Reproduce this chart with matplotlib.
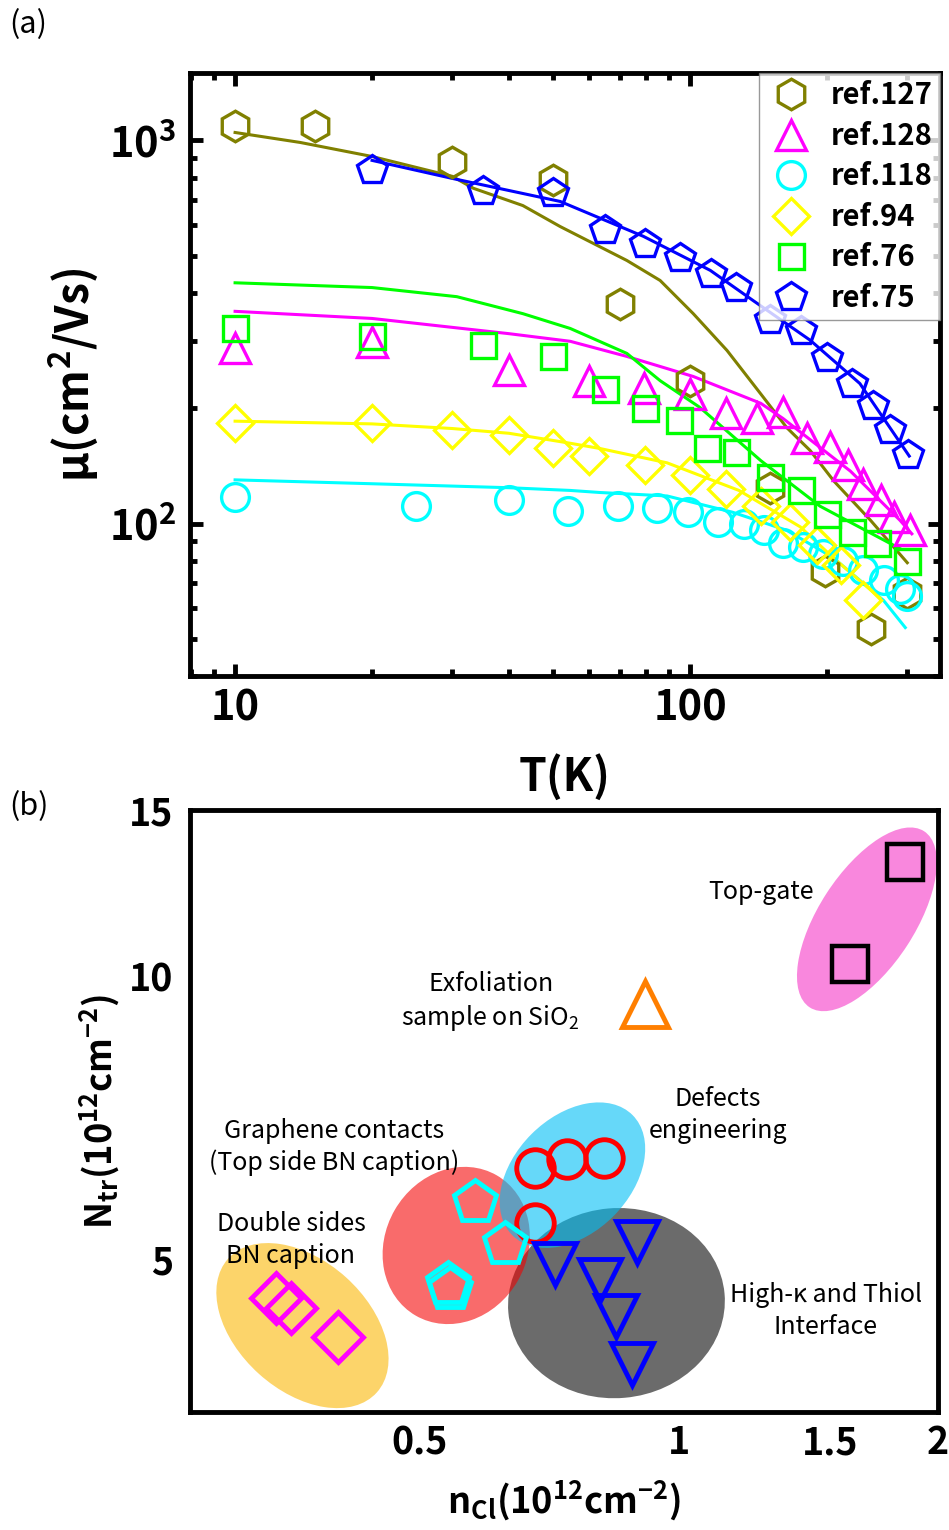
import numpy as np
import matplotlib
matplotlib.use("Agg")
import matplotlib.pyplot as plt
import matplotlib.transforms as mtransforms
from matplotlib.patches import Ellipse
from matplotlib.ticker import FuncFormatter, NullFormatter, NullLocator

plt.rcParams['font.family'] = ['Noto Sans CJK SC', 'DejaVu Sans']
plt.rcParams['mathtext.fontset'] = 'custom'
plt.rcParams['mathtext.rm'] = 'Noto Sans CJK SC'
plt.rcParams['mathtext.it'] = 'Noto Sans CJK SC'
plt.rcParams['mathtext.bf'] = 'Noto Sans CJK SC:bold'

# ---------------- panel (a): mobility vs temperature ----------------
refs = ["ref.127", "ref.128", "ref.118", "ref.94", "ref.76", "ref.75"]

T_127 = [10, 15, 30, 50, 70, 100, 150, 198, 250, 300]
mu_127 = [1088, 1088, 881, 786, 375, 236, 124, 75, 53, 66]
fitT_127 = [10, 13.9, 20, 30, 33.4, 42.9, 51.8, 72.6, 85.9, 101.6, 120.5, 142.9, 163, 183.6, 207, 249, 300]
fitmu_127 = [1049, 988, 908, 806, 750, 676, 596, 486, 431, 353, 283, 218, 178, 155, 129, 102, 79]

T_128 = [10, 20, 40, 60, 79, 100, 120, 140, 160, 181, 203, 222, 240, 262, 280, 304]
mu_128 = [288, 297, 251, 236, 226, 218, 194, 189, 195, 167, 158, 142, 127, 115, 104, 96]
fitT_128 = [10, 20, 40, 54.5, 72.6, 101.6, 142.9, 160, 225, 289, 307]
fitmu_128 = [358, 343, 313, 299, 273, 242, 206, 188, 137, 102, 94]

T_118 = [10, 25, 40, 54, 69.5, 84.5, 99, 115, 131, 145, 160, 177, 196, 217, 240, 266, 289, 300]
mu_118 = [117, 111, 115, 108, 111, 110, 107, 101, 100, 96, 88.7, 86.6, 83.5, 80, 75.4, 71, 67.6, 64.8]
fitT_118 = [10, 20, 40, 54.5, 63.3, 89, 124, 163, 206, 266, 297]
fitmu_118 = [130, 127, 124, 122, 120.5, 118, 107, 96, 81.5, 63, 53.5]

T_94 = [10, 20, 30, 40, 50, 60, 79.6, 100, 120, 143, 166, 190, 214, 240]
mu_94 = [183, 183, 175, 170, 157, 150, 142, 134, 123, 111, 101, 88, 78, 63]
fitT_94 = [10, 20, 30, 40, 54.5, 63.3, 89, 128, 174.6, 206, 261]
fitmu_94 = [185, 182, 177, 172, 162, 157, 144, 122, 98, 81.5, 64]

T_76 = [10, 20, 35, 50, 65, 79.6, 94.5, 109, 126, 150, 175, 200, 227, 258, 300]
mu_76 = [323, 308, 293, 273, 225, 200, 186, 157, 154, 132, 122, 106, 95, 89, 80]
fitT_76 = [10, 20, 30.7, 42.9, 54.5, 72.6, 85.9, 105, 142.9, 192.9, 289]
fitmu_76 = [425, 413, 391, 353, 323, 278, 236, 201, 146, 111, 86]

T_75 = [20, 35, 50, 65, 79.6, 95, 111, 126, 150, 175, 200, 227, 252, 275, 301]
mu_75 = [835, 740, 727, 582, 538, 492, 449, 411, 339, 319, 270, 232, 203, 175, 151]
fitT_75 = [20, 30, 51.8, 78.9, 110.7, 137.5, 183.5, 236, 303]
fitmu_75 = [887, 796, 693, 562, 458, 382, 301, 232, 150]

colors_a = ["#808000", "#FF00FF", "#00FFFF", "#FFFF00", "#00FF00", "#0000FF"]
markers_a = ["h", "^", "o", "D", "s", "p"]
msizes_a = [22, 21, 20, 18, 18, 22]

# ---------------- panel (b): N_tr vs n_Cl ----------------
n_topgate = [1.58, 1.83]
N_topgate = [10.3, 13.2]
n_exfol = [0.913]
N_exfol = [9.34]
n_defect = [0.682, 0.743, 0.820, 0.682]
N_defect = [6.25, 6.39, 6.40, 5.46]
n_graph = [0.581, 0.629, 0.540, 0.543]
N_graph = [5.75, 5.19, 4.71, 4.65]
n_double = [0.341, 0.355, 0.402]
N_double = [4.55, 4.44, 4.13]
n_highk = [0.718, 0.811, 0.845, 0.894, 0.884]
N_highk = [4.94, 4.75, 4.35, 5.22, 3.87]

# group ellipses: centre (n, N), size in inches, angle in degrees
ell_n = [1.654, 0.366, 0.847, 0.552, 0.753]
ell_N = [11.48, 4.25, 4.49, 5.17, 6.14]
ell_w = [2.10, 2.00, 2.17, 1.62, 1.70]
ell_h = [0.96, 1.30, 1.90, 1.42, 1.16]
ell_ang = [57, -42, 5, 60, 45]
ell_col = ["#F987DD", "#FCD46A", (0, 0, 0, 0.58), (0.96, 0, 0, 0.58), (0, 0.75, 0.96, 0.6)]

fig = plt.figure(figsize=(9.49, 15.30), dpi=100)

# ===== (a) =====
ax1 = fig.add_axes([0.2002, 0.5582, 0.7903, 0.3941])
series = [
    (T_127, mu_127, fitT_127, fitmu_127),
    (T_128, mu_128, fitT_128, fitmu_128),
    (T_118, mu_118, fitT_118, fitmu_118),
    (T_94, mu_94, fitT_94, fitmu_94),
    (T_76, mu_76, fitT_76, fitmu_76),
    (T_75, mu_75, fitT_75, fitmu_75),
]
handles = []
for (t, m, ft, fm), c, mk, ms, lab in zip(series, colors_a, markers_a, msizes_a, refs):
    ax1.plot(ft, fm, color=c, lw=2.2, zorder=2)
    h, = ax1.plot(t, m, ls="none", marker=mk, ms=ms, mfc="none", mec=c, mew=2.4,
                  label=lab, zorder=3)
    handles.append(h)

ax1.set_xscale("log")
ax1.set_yscale("log")
ax1.set_xlim(7.96, 354)
ax1.set_ylim(40, 1500)
ax1.set_xticks([10, 100])
ax1.set_xticklabels(["10", "100"])
ax1.xaxis.set_minor_formatter(NullFormatter())
ax1.yaxis.set_major_formatter(FuncFormatter(lambda v, p: r"$\mathbf{10^{%d}}$" % round(np.log10(v))))
ax1.yaxis.set_minor_formatter(NullFormatter())
ax1.tick_params(which="both", direction="in", top=True, right=True, width=3.5)
ax1.tick_params(which="major", length=9, labelsize=30)
ax1.tick_params(axis="x", which="major", pad=8)
ax1.tick_params(axis="y", which="major", pad=10)
ax1.tick_params(which="minor", length=5)
for lbl in ax1.get_xticklabels():
    lbl.set_fontweight("bold")
for s in ax1.spines.values():
    s.set_linewidth(3.5)
ax1.set_xlabel("T(K)", fontsize=32, fontweight="bold", labelpad=18)
ax1.set_ylabel(r"$\mathbf{μ(cm^{2}/Vs)}$", fontsize=32, labelpad=6)

leg = ax1.legend(handles=handles, loc="upper right", borderaxespad=0.0,
                 prop={"size": 21, "weight": "bold"}, frameon=True, fancybox=False,
                 edgecolor="#808080", handletextpad=0.5, labelspacing=0.36,
                 borderpad=0.25, handlelength=1.7)
leg.get_frame().set_linewidth(1.0)

fig.text(0.010, 0.984, "(a)", fontsize=22, ha="left", va="center")

# ===== (b) =====
ax2 = fig.add_axes([0.2002, 0.0771, 0.7882, 0.3935])
ax2.set_xscale("log")
ax2.set_yscale("log")
ax2.set_xlim(0.271, 2.0)
ax2.set_ylim(3.44, 15.0)

for cx, cy, w, h, a, c in zip(ell_n, ell_N, ell_w, ell_h, ell_ang, ell_col):
    tr = fig.dpi_scale_trans + mtransforms.ScaledTranslation(cx, cy, ax2.transData)
    e = Ellipse((0, 0), w, h, angle=a, transform=tr, facecolor=c, edgecolor="none", zorder=1)
    ax2.add_patch(e)

ax2.plot(n_topgate, N_topgate, ls="none", marker="s", ms=26, mfc="none", mec="black", mew=3.2, zorder=3)
ax2.plot(n_exfol, N_exfol, ls="none", marker="^", ms=33, mfc="none", mec="#FF7F00", mew=3.5, zorder=3)
ax2.plot(n_defect, N_defect, ls="none", marker="o", ms=27, mfc="none", mec="red", mew=3.5, zorder=3)
ax2.plot(n_graph, N_graph, ls="none", marker="p", ms=32, mfc="none", mec="cyan", mew=3.5, zorder=3)
ax2.plot(n_double, N_double, ls="none", marker="D", ms=25, mfc="none", mec="magenta", mew=3.5, zorder=3)
ax2.plot(n_highk, N_highk, ls="none", marker="v", ms=30, mfc="none", mec="blue", mew=3.5, zorder=3)

ax2.set_xticks([0.5, 1, 1.5, 2])
ax2.set_xticklabels(["0.5", "1", "1.5", "2"])
ax2.xaxis.set_minor_locator(NullLocator())
ax2.set_yticks([5, 10, 15])
ax2.set_yticklabels(["5", "10", "15"])
ax2.yaxis.set_minor_locator(NullLocator())
ax2.tick_params(which="both", length=0, labelsize=27)
ax2.tick_params(axis="x", pad=8)
ax2.tick_params(axis="y", pad=12)
for lbl in ax2.get_xticklabels() + ax2.get_yticklabels():
    lbl.set_fontweight("bold")
for s in ax2.spines.values():
    s.set_linewidth(3.5)
ax2.set_xlabel(r"$\mathbf{n_{Cl}(10^{12}cm^{-2})}$", fontsize=26)
ax2.xaxis.set_label_coords(0.5, -0.11)
ax2.set_ylabel(r"$\mathbf{N_{tr}(10^{12}cm^{-2})}$", fontsize=26, labelpad=6)

txt = dict(fontsize=18, ha="center", va="center", zorder=4, linespacing=1.3)
ax2.text(0.763, 0.864, "Top-gate", transform=ax2.transAxes, **txt)
ax2.text(0.402, 0.681, "Exfoliation\nsample on SiO$_2$", transform=ax2.transAxes, **txt)
ax2.text(0.706, 0.493, "Defects\nengineering", transform=ax2.transAxes, **txt)
ax2.text(0.193, 0.440, "Graphene contacts\n(Top side BN caption)", transform=ax2.transAxes, **txt)
ax2.text(0.135, 0.286, "Double sides\nBN caption", transform=ax2.transAxes, **txt)
ax2.text(0.850, 0.168, "High-κ and Thiol\nInterface", transform=ax2.transAxes, **txt)

fig.text(0.010, 0.473, "(b)", fontsize=22, ha="left", va="center")

fig.savefig("out.png", dpi=100)
